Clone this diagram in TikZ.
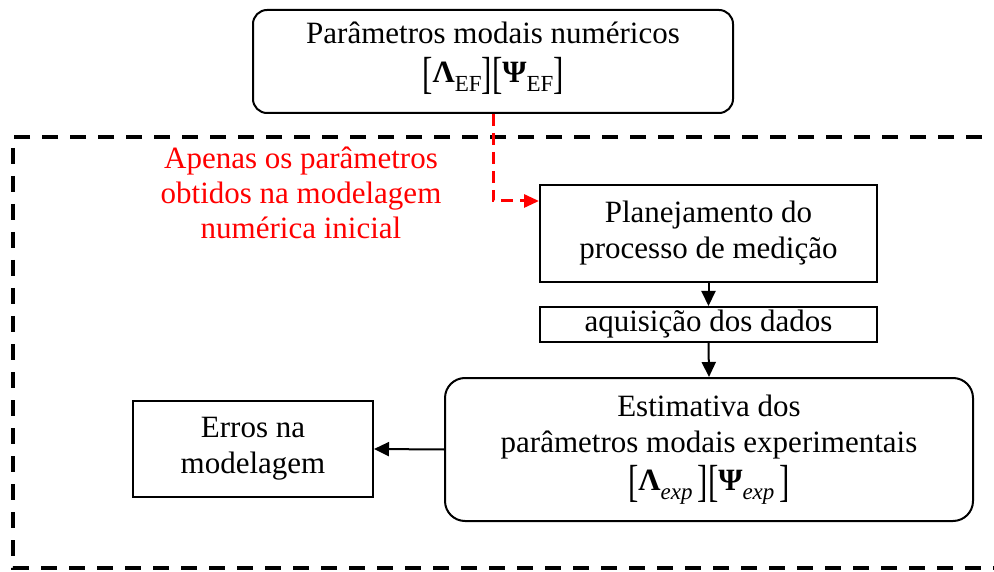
\documentclass[tikz,border=0pt]{standalone}
\usepackage{fontspec}
\usepackage{graphicx}
\setmainfont{Liberation Serif}
\usetikzlibrary{arrows.meta}
\newcommand{\bigbrk}[1]{\raisebox{-6pt}{\scalebox{1}[1.45]{#1}}}
\newcommand{\sbx}[1]{\raisebox{-9pt}{\fontsize{23}{23}\selectfont #1}}
\begin{document}
\begin{tikzpicture}[x=1pt,y=-1pt,
  every node/.style={font=\fontsize{31}{36}\selectfont, inner sep=0pt, align=center},
  boxsq/.style={draw, line width=2pt},
  boxrd/.style={draw, line width=2pt, rounded corners=14pt},
  flow/.style={line width=2pt, -{Triangle[width=14pt,length=15pt]}},
  redflow/.style={red, line width=3pt, dash pattern=on 12pt off 7pt, -{Triangle[width=13pt,length=15pt]}},
  outer/.style={line width=4pt, dash pattern=on 16pt off 12pt}]
\useasboundingbox (0,0) rectangle (994,572);
\draw[outer] (1010,137) -- (13,137) -- (13,568) -- (1010,568);
\node[boxrd, minimum width=480pt, minimum height=103pt] (top) at (493,61.5) {};
\node at (493,58)
  {Parâmetros modais numéricos\\[3pt]
   \bigbrk{[}\textbf{Λ}\sbx{EF}\bigbrk{]}\bigbrk{[}\textbf{Ψ}\sbx{EF}\bigbrk{]}};
\node[red] (note) at (301,193) {Apenas os parâmetros\\[-1pt] obtidos na modelagem\\[-1pt] numérica inicial};
\node[boxsq, minimum width=337pt, minimum height=97pt] (plan) at (708.5,233.5)
  {Planejamento do\\ processo de medição};
\node[boxsq, minimum width=337pt, minimum height=35pt] (aq) at (708.5,324.5)
  {aquisição dos dados};
\node[boxrd, rounded corners=20pt, minimum width=528pt, minimum height=143pt] (est) at (709,449.5)
  {Estimativa dos\\ parâmetros modais experimentais\\[2pt]
   \bigbrk{[}\textbf{Λ}\sbx{\itshape exp}\,\bigbrk{]}\bigbrk{[}\textbf{Ψ}\sbx{\itshape exp}\,\bigbrk{]}};
\node[boxsq, minimum width=240pt, minimum height=96pt] (err) at (253,449)
  {Erros na\\ modelagem};
\coordinate (rc) at (493,201);
\draw[redflow] (top.south) -- (rc) -- (rc -| plan.west);
\draw[flow] (plan.south) -- (aq.north);
\draw[flow] (aq.south) -- (est.north);
\draw[flow] (est.west) -- (err.east);
\end{tikzpicture}
\end{document}
